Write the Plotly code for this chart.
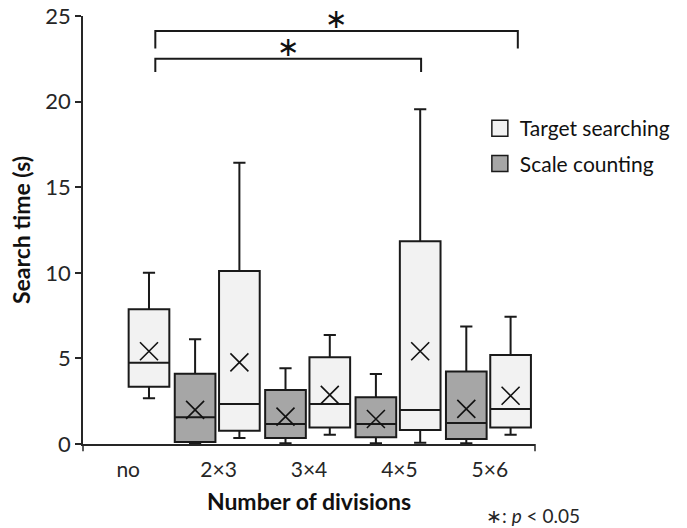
import plotly.graph_objects as go

categories = ["no", "2×3", "3×4", "4×5", "5×6"]

# Target searching (all 5 categories)
ts_low = [2.67, 0.35, 0.54, 0.08, 0.54]
ts_q1 = [3.35, 0.78, 0.97, 0.82, 0.97]
ts_med = [4.74, 2.34, 2.34, 1.99, 2.05]
ts_q3 = [7.87, 10.1, 5.07, 11.85, 5.2]
ts_high = [10.0, 16.43, 6.37, 19.55, 7.44]
ts_mean = [5.42, 4.77, 2.87, 5.42, 2.82]

# Scale counting (no data for "no")
sc_cats = [1, 2, 3, 4]
sc_low = [0.0, 0.05, 0.05, 0.05]
sc_q1 = [0.12, 0.35, 0.39, 0.29]
sc_med = [1.56, 1.17, 1.17, 1.23]
sc_q3 = [4.11, 3.16, 2.73, 4.23]
sc_high = [6.12, 4.42, 4.09, 6.86]
sc_mean = [1.99, 1.6, 1.46, 2.05]

# significance comparisons
brackets_x = [(0.30, 3.24), (0.30, 4.31)]
brackets_y = [22.5, 24.13]
bracket_drop = [0.77, 1.03]

FONT = "Lato"
TXT = "#262626"
TS_OFF = 0.23
SC_OFF = -0.26
W = 0.45

PW, PH = 452, 427.6
L, T = 83, 16
FW, FH = 687, 528

ts_x = [i + TS_OFF for i in range(len(categories))]
sc_x = [c + SC_OFF for c in sc_cats]

fig = go.Figure()

fig.add_trace(go.Box(
    x=sc_x, q1=sc_q1, median=sc_med, q3=sc_q3,
    lowerfence=sc_low, upperfence=sc_high,
    width=W, whiskerwidth=0.3,
    fillcolor="#a6a6a6", line=dict(color="#1a1a1a", width=2),
    showlegend=False, name="Scale counting", boxpoints=False,
))
fig.add_trace(go.Box(
    x=ts_x, q1=ts_q1, median=ts_med, q3=ts_q3,
    lowerfence=ts_low, upperfence=ts_high,
    width=W, whiskerwidth=0.3,
    fillcolor="#f2f2f2", line=dict(color="#1a1a1a", width=2),
    showlegend=False, name="Target searching", boxpoints=False,
))

# mean markers
fig.add_trace(go.Scatter(
    x=sc_x + ts_x, y=sc_mean + ts_mean, mode="markers",
    marker=dict(symbol="x-thin", size=18, line=dict(color="#111", width=1.6)),
    showlegend=False, hoverinfo="skip",
))

# legend entries
fig.add_trace(go.Scatter(
    x=[None], y=[None], mode="markers", name="Target searching",
    legendgroup="a",
    marker=dict(symbol="square", size=16, color="#f2f2f2",
                line=dict(color="#1a1a1a", width=1.5)),
))
fig.add_trace(go.Scatter(
    x=[None], y=[None], mode="markers", name="Scale counting",
    legendgroup="b",
    marker=dict(symbol="square", size=16, color="#a6a6a6",
                line=dict(color="#1a1a1a", width=1.5)),
))

shapes = []
annotations = []
for (x0, x1), yb, dr in zip(brackets_x, brackets_y, bracket_drop):
    shapes.append(dict(
        type="path", xref="x", yref="y",
        path=f"M{x0},{yb - dr} L{x0},{yb} L{x1},{yb} L{x1},{yb - dr}",
        line=dict(color="#1a1a1a", width=2),
    ))
    annotations.append(dict(
        x=(x0 + x1) / 2, y=yb, xref="x", yref="y", text="∗",
        showarrow=False, yanchor="middle", yshift=12,
        font=dict(family="DejaVu Sans", size=27, color="#111"),
    ))

# axis end ticks
shapes.append(dict(type="line", xref="x domain", yref="y domain",
                   x0=0, x1=0, y0=0, y1=-0.017,
                   line=dict(color="#262626", width=1.5)))
shapes.append(dict(type="line", xref="x domain", yref="y domain",
                   x0=1, x1=1, y0=0, y1=-0.017,
                   line=dict(color="#262626", width=1.5)))

annotations.append(dict(
    x=(484 - L) / PW, y=-(515 - 443.3) / PH, xref="paper", yref="paper",
    xanchor="left", yanchor="middle", showarrow=False,
    text="∗: <i>p</i> < 0.05",
    font=dict(family=FONT, size=19, color=TXT),
))

fig.update_layout(
    width=FW, height=FH,
    margin=dict(l=L, r=FW - L - PW, t=T, b=FH - T - PH),
    paper_bgcolor="white", plot_bgcolor="white",
    font=dict(family=FONT, size=22, color=TXT),
    shapes=shapes, annotations=annotations,
    legend=dict(x=0.878, y=0.785, xanchor="left", yanchor="top",
                font=dict(family=FONT, size=21, color="#111"),
                tracegroupgap=5, traceorder="grouped",
                bgcolor="rgba(0,0,0,0)"),
    xaxis=dict(
        range=[-0.5, 4.5], tickmode="array", automargin=False,
        tickvals=list(range(len(categories))), ticktext=categories,
        showline=True, linecolor="#262626", linewidth=1.5,
        showgrid=False, zeroline=False, ticks="",
        ticklabelstandoff=6,
        tickfont=dict(family=FONT, size=21, color=TXT),
        title=dict(text="<b>Number of divisions</b>", standoff=14,
                   font=dict(family=FONT, size=23, color="#111")),
    ),
    yaxis=dict(
        range=[0, 25], tickmode="array", tickvals=[0, 5, 10, 15, 20, 25],
        automargin=False,
        showline=True, linecolor="#262626", linewidth=1.5,
        showgrid=False, zeroline=False, ticks="outside", ticklen=6,
        tickwidth=1.5, tickcolor="#262626",
        tickfont=dict(family=FONT, size=22, color=TXT),
        title=dict(text="<b>Search time (s)</b>", standoff=8,
                   font=dict(family=FONT, size=23, color="#111")),
    ),
)

fig.write_html("out.html",
               config={"displayModeBar": False},
               post_script="document.body.style.margin='0px';"
                           "document.body.style.overflow='hidden';")
